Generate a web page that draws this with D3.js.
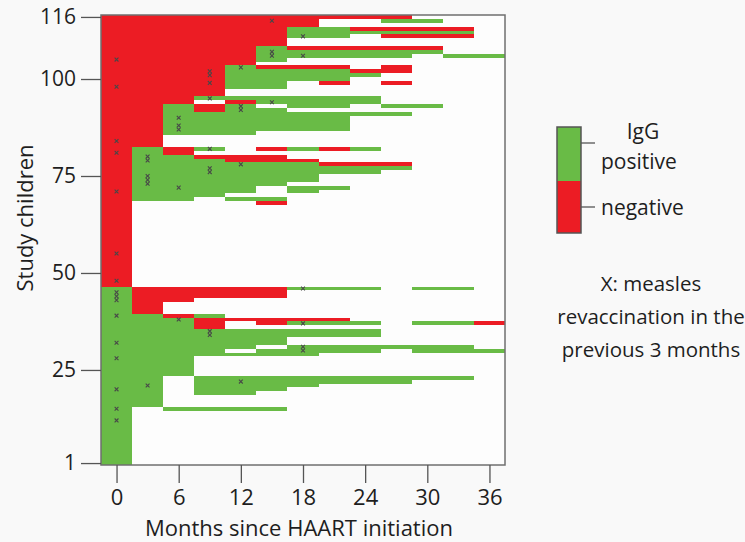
<!DOCTYPE html>
<html>
<head>
<meta charset="utf-8">
<script src="https://cdn.jsdelivr.net/npm/d3@7"></script>
<style>
	body { margin: 0; background: #f9f9f9; }
	text { font-family: 'Open Sans', sans-serif; fill: #1e1e1e; }
</style>
</head>
<body>
<svg id="chart" width="745" height="542"></svg>
<script>
// months of each 3-month visit (columns)
const months = [0, 3, 6, 9, 12, 15, 18, 21, 24, 27, 30, 33, 36]

// IgG status per child, one string per child from child 116 (top) down to child 1
// R = negative, G = positive, . = no sample
const status = [
	'RRRRRRRRRR...', // 116
	'RRRRRRR..GG..',
	'RRRRRRR......',
	'RRRRRRGGRRRR.',
	'RRRRRRGGGGGG.',
	'RRRRRRGG.RRR.',
	'RRRRRR.......',
	'RRRRRR.......',
	'RRRRRGRRRRR..',
	'RRRRRGGGGGG..',
	'RRRRRGGGGG.GG',
	'RRRRRG.......',
	'RRRRR........',
	'RRRRGRRR.R...',
	'RRRRGGGGRR...',
	'RRRRGGGGG....',
	'RRRRGGGG.....', // 100
	'RRRRGG.R.R...',
	'RRRRGG.......',
	'RRRR.........',
	'RRRR.........',
	'RRRGGGGGG....',
	'RRR.RGGGG....',
	'RRGRG.GG.GG..',
	'RRGRGG.......',
	'RRGGGGGGGG...',
	'RRGGGGGG.....', // 90
	'RRGGGGGG.....',
	'RRGGGGGG.....',
	'RRGGGGGG.....',
	'RRGGG........',
	'RR...........',
	'RR...........',
	'RR...........',
	'RGRG.RGRG....',
	'RGR..........',
	'RGGRRR.......', // 80
	'RGGGRRR......',
	'RGGGGGGRRR...',
	'RGGGGGGGGG...',
	'RGGGGGGGG....',
	'RGGGGGG......', // 75
	'RGGGGGG......',
	'RGGGGG.......',
	'RGGGG.GG.....',
	'RGGGG.G......',
	'RGGG.........', // 70
	'RGG.GG.......',
	'R....R.......',
	'R............',
	'R............',
	'R............',
	'R............',
	'R............',
	'R............',
	'R............',
	'R............', // 60
	'R............',
	'R............',
	'R............',
	'R............',
	'R............',
	'R............',
	'R............',
	'R............',
	'R............',
	'R............', // 50
	'R............',
	'R............',
	'R............',
	'GRRRRRGGG.GG.', // 46
	'GRRRRR.......',
	'GRRRRR.......',
	'GRR..........',
	'GR...........',
	'GR...........',
	'GR...........', // 40
	'GGRG.........',
	'GGGRRRRR.....',
	'GGGR.RGGG.GGR',
	'GGGR.........',
	'GGGGGGGGG....',
	'GGGGGGGGG....',
	'GGGGGG.......',
	'GGGGGG.......',
	'GGGGG.GGGGGG.',
	'GGGG.GGGG.GGG', // 30
	'GGGGGGG......',
	'GGG..........',
	'GGG..........',
	'GGG..........',
	'GGG..........', // 25
	'GGG..........',
	'GG.GGGGGGGGG.',
	'GG.GGGGGGG...',
	'GG.GGGG......',
	'GG.GGG.......', // 20
	'GG.GG........',
	'GG...........',
	'GG...........',
	'GG...........',
	'G.GGGG.......', // 15
	'G............',
	'G............',
	'G............',
	'G............',
	'G............', // 10
	'G............',
	'G............',
	'G............',
	'G............',
	'G............', // 5
	'G............',
	'G............',
	'G............',
	'G............'  // 1
]

// measles revaccination in the previous 3 months: [month, child]
const revacc = [
	[15, 115], [18, 111], [15, 107], [15, 106], [18, 106], [0, 105], [12, 103],
	[9, 102], [9, 101], [9, 99], [0, 98], [9, 95], [15, 94], [12, 93], [12, 92],
	[6, 90], [6, 88], [6, 87], [0, 84], [9, 82], [0, 81], [3, 80], [3, 79],
	[12, 78], [9, 77], [9, 76], [3, 75], [3, 74], [3, 73], [6, 72], [0, 71],
	[0, 55], [0, 48], [18, 46], [0, 45], [0, 44], [0, 43], [0, 39], [6, 38],
	[18, 37], [9, 35], [9, 34], [0, 32], [18, 31], [18, 30], [0, 28], [12, 22],
	[3, 21], [0, 20], [0, 15], [0, 12]
]

const xTicks = [0, 6, 12, 18, 24, 30, 36]
const yTicks = [1, 25, 50, 75, 100, 116]
const legendLabels = ['positive', 'negative']
const captionLines = ['X: measles', 'revaccination in the', 'previous 3 months']

const colors = { 'R': '#ec1c24', 'G': '#69bb46' }
const nChildren = status.length

var svg = d3.select('#chart')

var x = d3.scaleLinear()
	.domain([-1.5, 37.5])
	.range([101, 505])
var y = d3.scaleLinear()
	.domain([0.5, nChildren + 0.5])
	.range([465, 15])

// plot background
svg.append('rect')
	.attr('x', x.range()[0])
	.attr('y', y.range()[1])
	.attr('width', x.range()[1] - x.range()[0])
	.attr('height', y.range()[0] - y.range()[1])
	.attr('fill', '#fdfdfd')

// turn each child's string into runs of same status
var runs = []
status.forEach((s, i) => {
	const child = nChildren - i
	let start = 0
	for (let k = 1; k <= s.length; k++) {
		if (k == s.length || s[k] != s[start]) {
			if (s[start] != '.') {
				runs.push({ child: child, from: months[start], to: months[k - 1], v: s[start] })
			}
			start = k
		}
	}
})

svg.append('g')
	.attr('shape-rendering', 'crispEdges')
	.selectAll('rect')
	.data(runs)
	.enter()
	.append('rect')
	.attr('x', d => x(d.from - 1.5))
	.attr('width', d => x(d.to + 1.5) - x(d.from - 1.5))
	.attr('y', d => y(d.child + 0.5))
	.attr('height', d => y(d.child - 0.5) - y(d.child + 0.5))
	.attr('fill', d => colors[d.v])

// revaccination crosses
var s = 1.9
svg.append('g')
	.selectAll('path')
	.data(revacc)
	.enter()
	.append('path')
	.attr('d', d => {
		const cx = x(d[0]), cy = y(d[1])
		return `M${cx - s},${cy - s}L${cx + s},${cy + s}M${cx - s},${cy + s}L${cx + s},${cy - s}`
	})
	.attr('stroke', '#484848')
	.attr('stroke-width', 1.1)

// frame
svg.append('rect')
	.attr('x', x.range()[0])
	.attr('y', y.range()[1])
	.attr('width', x.range()[1] - x.range()[0])
	.attr('height', y.range()[0] - y.range()[1])
	.attr('fill', 'none')
	.attr('stroke', '#6f6f6f')
	.attr('stroke-width', 1.5)

// y axis
var yAxis = svg.append('g')
	.attr('transform', 'translate(' + x.range()[0] + ',0)')
	.call(d3.axisLeft(y).tickValues(yTicks).tickSize(20).tickSizeOuter(0).tickPadding(5))
yAxis.select('.domain').remove()
yAxis.selectAll('line').attr('stroke', '#555').attr('stroke-width', 1.3)
yAxis.selectAll('text').style('font-size', '21px').attr('fill', '#1e1e1e').style('font-family', "'Open Sans', sans-serif")

// x axis
var xAxis = svg.append('g')
	.attr('transform', 'translate(0,' + y.range()[0] + ')')
	.call(d3.axisBottom(x).tickValues(xTicks).tickSize(18).tickSizeOuter(0).tickPadding(6))
xAxis.select('.domain').remove()
xAxis.selectAll('line').attr('stroke', '#555').attr('stroke-width', 1.3)
xAxis.selectAll('text').style('font-size', '22px').attr('fill', '#1e1e1e').style('font-family', "'Open Sans', sans-serif")

// axis titles
svg.append('text')
	.attr('x', 299)
	.attr('y', 536)
	.attr('text-anchor', 'middle')
	.style('font-size', '22px')
	.text('Months since HAART initiation')

svg.append('text')
	.attr('transform', 'translate(33,218) rotate(-90)')
	.attr('text-anchor', 'middle')
	.style('font-size', '22px')
	.text('Study children')

// legend
var legend = svg.append('g')
legend.selectAll('rect')
	.data(legendLabels)
	.enter()
	.append('rect')
	.attr('x', 557)
	.attr('y', (d, i) => 127 + i * 54)
	.attr('width', 24)
	.attr('height', (d, i) => i == 0 ? 54 : 52)
	.attr('fill', (d, i) => i == 0 ? colors.G : colors.R)
legend.append('rect')
	.attr('x', 557).attr('y', 127)
	.attr('width', 24).attr('height', 106)
	.attr('fill', 'none')
	.attr('stroke', '#555')
	.attr('stroke-width', 1.5)
legend.selectAll('line')
	.data(legendLabels)
	.enter()
	.append('line')
	.attr('x1', 581).attr('x2', 595)
	.attr('y1', (d, i) => 143 + i * 64)
	.attr('y2', (d, i) => 143 + i * 64)
	.attr('stroke', '#555')
	.attr('stroke-width', 1.3)
legend.append('text')
	.attr('x', 643).attr('y', 139)
	.attr('text-anchor', 'middle')
	.style('font-size', '21px')
	.text('IgG')
legend.selectAll('.lab')
	.data(legendLabels)
	.enter()
	.append('text')
	.attr('class', 'lab')
	.attr('x', 601)
	.attr('y', (d, i) => 169 + i * 46)
	.style('font-size', '21px')
	.text(d => d)

// caption
svg.append('g')
	.selectAll('text')
	.data(captionLines)
	.enter()
	.append('text')
	.attr('x', 651)
	.attr('y', (d, i) => 291 + i * 33)
	.attr('text-anchor', 'middle')
	.style('font-size', '20.5px')
	.text(d => d)
</script>
</body>
</html>
